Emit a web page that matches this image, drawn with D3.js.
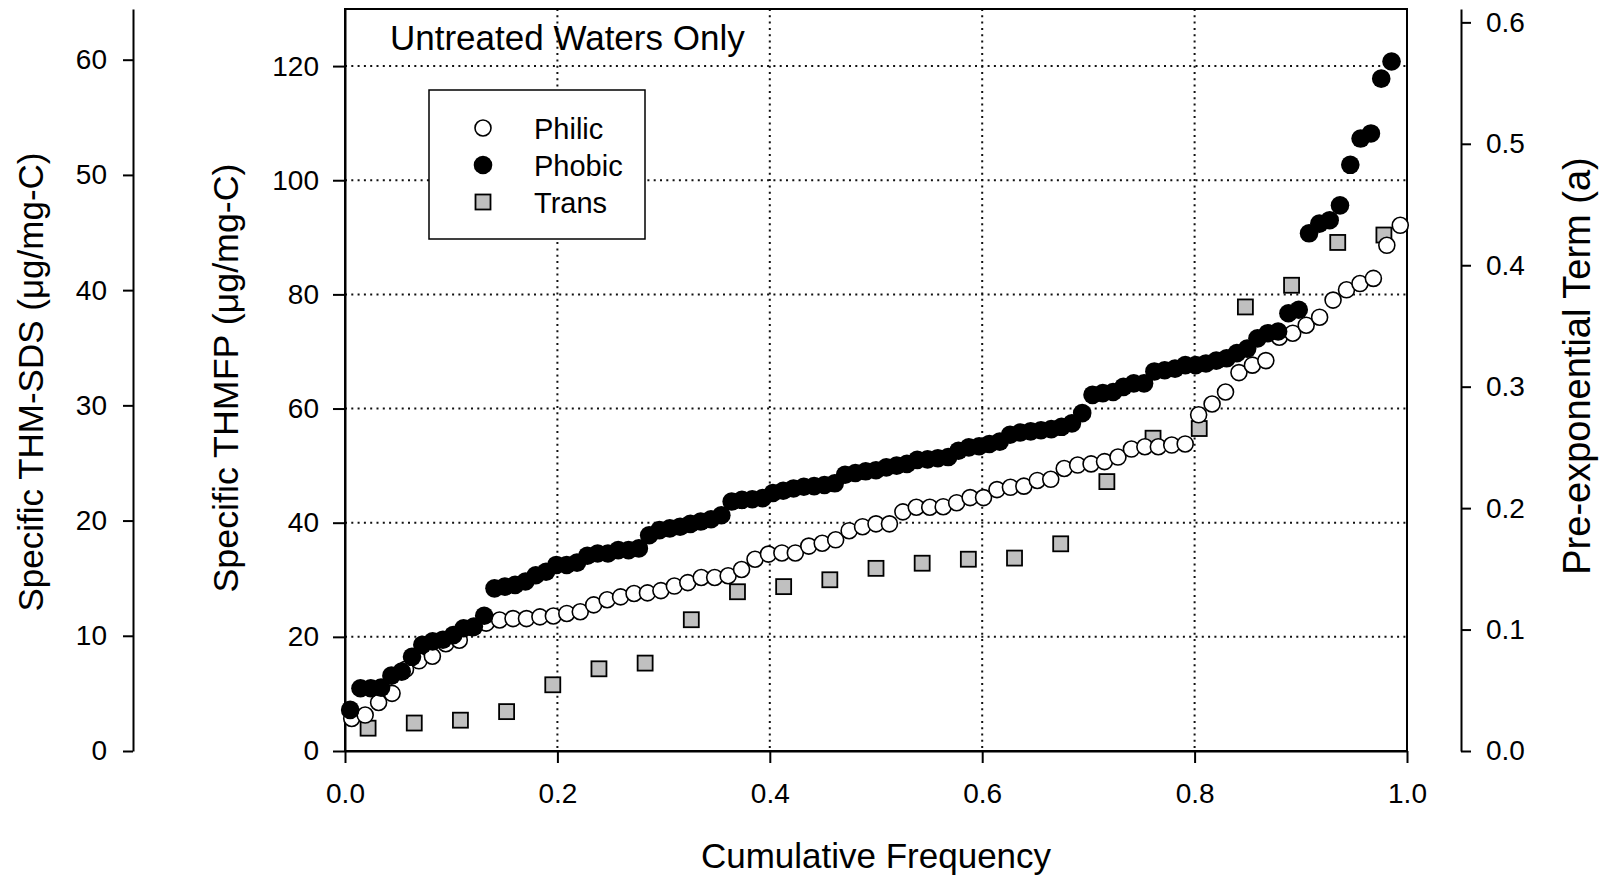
<!DOCTYPE html>
<html>
<head>
<meta charset="utf-8">
<script src="https://cdn.jsdelivr.net/npm/d3@7"></script>
<style>
  body { margin: 0; background: #fff; }
  text { font-family: "Liberation Sans", Arial, sans-serif; }
</style>
</head>
<body>
<div id="chart"></div>
<script>
// values (Specific THMFP scale), sorted ascending
const philic = [5.7, 6.3, 8.5, 10.1, 14.3, 15.8, 16.6, 18.8, 19.4, 21.6,
  22.4, 22.95, 23.2, 23.2, 23.5, 23.65, 24.1, 24.4, 25.6, 26.5,
  27.0, 27.6, 27.7, 28.1, 28.9, 29.5, 30.4, 30.4, 30.7, 31.8,
  33.6, 34.5, 34.7, 34.7, 35.9, 36.4, 37.0, 38.6, 39.3, 39.8,
  39.8, 41.9, 42.7, 42.7, 42.8, 43.5, 44.4, 44.4, 45.8, 46.2,
  46.4, 47.4, 47.6, 49.5, 50.1, 50.3, 50.7, 51.5, 52.9, 53.3,
  53.3, 53.6, 53.8, 58.9, 60.8, 62.9, 66.3, 67.6, 68.4, 72.5,
  73.2, 74.6, 76.0, 79.0, 80.8, 81.9, 82.8, 88.6, 92.1];

const phobic = [7.2, 11.0, 11.0, 11.1, 13.2, 13.9, 16.5, 18.6, 19.2, 19.5,
  20.3, 21.5, 21.8, 23.7, 28.5, 28.8, 29.1, 29.7, 30.8, 31.4,
  32.6, 32.6, 33.0, 34.2, 34.6, 34.6, 35.2, 35.2, 35.5, 37.8,
  38.7, 39.0, 39.3, 39.8, 40.2, 40.6, 41.3, 43.7, 44.0, 44.1,
  44.3, 45.2, 45.6, 46.0, 46.3, 46.4, 46.6, 46.9, 48.4, 48.7,
  49.0, 49.2, 49.7, 50.0, 50.3, 51.0, 51.1, 51.3, 51.5, 52.6,
  53.2, 53.4, 53.8, 54.2, 55.4, 55.8, 56.0, 56.2, 56.4, 56.8,
  57.4, 59.2, 62.4, 62.7, 62.9, 63.8, 64.4, 64.4, 66.5, 66.7,
  67.0, 67.6, 67.6, 67.9, 68.4, 68.8, 69.7, 70.5, 72.3, 73.2,
  73.5, 76.7, 77.3, 90.7, 92.4, 93.0, 95.6, 102.7, 107.3, 108.2,
  117.8, 120.8];

const trans = [4.0, 4.9, 5.4, 6.9, 11.6, 14.4, 15.4, 23.0, 27.9, 28.8,
  30.0, 32.0, 32.9, 33.6, 33.8, 36.3, 47.2, 54.8, 56.5, 77.8,
  81.6, 89.1, 90.4];

// sample counts used for the plotting positions (phobic spacing suggests 103)
const philicN = philic.length;
const phobicN = 103;
const transN = trans.length;

const xTicks = [0, 0.2, 0.4, 0.6, 0.8, 1.0];
const thmfpTicks = [0, 20, 40, 60, 80, 100, 120];
const sdsTicks = [0, 10, 20, 30, 40, 50, 60];
const preTicks = [0, 0.1, 0.2, 0.3, 0.4, 0.5, 0.6];
const gridY = [20, 40, 60, 80, 100, 120];
const gridX = [0.2, 0.4, 0.6, 0.8];

const legendItems = [
  { name: 'Philic', kind: 'open' },
  { name: 'Phobic', kind: 'filled' },
  { name: 'Trans', kind: 'square' }
];

// cumulative frequency from the rank
const toPoints = (vals, n) => vals.map((v, i) => ({ f: (i + 0.5) / n, v: v }));

const W = 1602, H = 875;
const pLeft = 345, pRight = 1407, pTop = 9, pBottom = 751;

const svg = d3.select('#chart').append('svg')
  .attr('width', W)
  .attr('height', H);

const x = d3.scaleLinear().domain([0, 1]).range([pLeft, pRight]);
const y = d3.scaleLinear().domain([0, 130]).range([pBottom, pTop]);
const ySds = d3.scaleLinear().domain([0, 64.4]).range([pBottom, pTop]);
const yPre = d3.scaleLinear().domain([0, 0.611]).range([pBottom, pTop]);

// dotted grid
svg.append('g').selectAll('line')
  .data(gridY).enter().append('line')
  .attr('x1', pLeft).attr('x2', pRight)
  .attr('y1', d => y(d)).attr('y2', d => y(d))
  .attr('stroke', '#111').attr('stroke-width', 2)
  .attr('stroke-dasharray', '2,4.3');
svg.append('g').selectAll('line')
  .data(gridX).enter().append('line')
  .attr('y1', pTop).attr('y2', pBottom)
  .attr('x1', d => x(d)).attr('x2', d => x(d))
  .attr('stroke', '#111').attr('stroke-width', 2)
  .attr('stroke-dasharray', '2,4.3');

// title inside plot
svg.append('text')
  .attr('x', 390).attr('y', 50)
  .attr('font-size', 35)
  .text('Untreated Waters Only');

// axes
function styleAxis(g) {
  g.attr('font-size', 28).attr('font-family', '"Liberation Sans", Arial, sans-serif');
  g.selectAll('path, line').attr('stroke', '#000').attr('stroke-width', 2);
  g.selectAll('text').attr('fill', '#000');
}

svg.append('g')
  .attr('transform', 'translate(133,0)')
  .call(d3.axisLeft(ySds).tickValues(sdsTicks).tickSize(10).tickSizeOuter(0).tickPadding(16))
  .call(styleAxis);

svg.append('g')
  .attr('transform', `translate(${pLeft},0)`)
  .call(d3.axisLeft(y).tickValues(thmfpTicks).tickSize(12).tickSizeOuter(0).tickPadding(14))
  .call(styleAxis);

svg.append('g')
  .attr('transform', 'translate(1461,0)')
  .call(d3.axisRight(yPre).tickValues(preTicks).tickSize(10).tickSizeOuter(0).tickPadding(15)
    .tickFormat(d3.format('.1f')))
  .call(styleAxis);

svg.append('g')
  .attr('transform', `translate(0,${pBottom})`)
  .call(d3.axisBottom(x).tickValues(xTicks).tickSize(12).tickSizeOuter(0).tickPadding(20)
    .tickFormat(d3.format('.1f')))
  .call(styleAxis);

// plot frame
svg.append('rect')
  .attr('x', pLeft).attr('y', pTop)
  .attr('width', pRight - pLeft).attr('height', pBottom - pTop)
  .attr('fill', 'none').attr('stroke', '#000').attr('stroke-width', 2);

// axis titles
svg.append('text')
  .attr('transform', 'translate(43,382) rotate(-90)')
  .attr('text-anchor', 'middle').attr('font-size', 35)
  .text('Specific THM-SDS (\u03bcg/mg-C)');
svg.append('text')
  .attr('transform', 'translate(238,378) rotate(-90)')
  .attr('text-anchor', 'middle').attr('font-size', 35.8)
  .text('Specific THMFP (\u03bcg/mg-C)');
svg.append('text')
  .attr('transform', 'translate(1590,366) rotate(-90)')
  .attr('text-anchor', 'middle').attr('font-size', 38)
  .text('Pre-exponential Term (a)');
svg.append('text')
  .attr('x', (pLeft + pRight) / 2).attr('y', 868)
  .attr('text-anchor', 'middle').attr('font-size', 35)
  .text('Cumulative Frequency');

// markers
const sq = 15;
svg.append('g').selectAll('rect')
  .data(toPoints(trans, transN)).enter().append('rect')
  .attr('x', d => x(d.f) - sq / 2).attr('y', d => y(d.v) - sq / 2)
  .attr('width', sq).attr('height', sq)
  .attr('fill', '#c0c0c0').attr('stroke', '#000').attr('stroke-width', 1.8);

svg.append('g').selectAll('circle')
  .data(toPoints(philic, philicN)).enter().append('circle')
  .attr('cx', d => x(d.f)).attr('cy', d => y(d.v)).attr('r', 8)
  .attr('fill', '#fff').attr('stroke', '#000').attr('stroke-width', 1.6);

svg.append('g').selectAll('circle')
  .data(toPoints(phobic, phobicN)).enter().append('circle')
  .attr('cx', d => x(d.f)).attr('cy', d => y(d.v)).attr('r', 9.3)
  .attr('fill', '#000');

// legend
const legend = svg.append('g');
legend.append('rect')
  .attr('x', 429).attr('y', 90).attr('width', 216).attr('height', 149)
  .attr('fill', '#fff').attr('stroke', '#000').attr('stroke-width', 1.5);

const rows = legend.selectAll('g.row')
  .data(legendItems).enter().append('g')
  .attr('class', 'row')
  .attr('transform', (d, i) => `translate(483,${128 + i * 37})`);

rows.each(function (d) {
  const g = d3.select(this);
  if (d.kind === 'square') {
    g.append('rect').attr('x', -sq / 2).attr('y', -sq / 2).attr('width', sq).attr('height', sq)
      .attr('fill', '#c0c0c0').attr('stroke', '#000').attr('stroke-width', 1.8);
  } else if (d.kind === 'open') {
    g.append('circle').attr('r', 8).attr('fill', '#fff').attr('stroke', '#000').attr('stroke-width', 1.6);
  } else {
    g.append('circle').attr('r', 9.3).attr('fill', '#000');
  }
});

rows.append('text')
  .attr('x', 51).attr('y', 10.5)
  .attr('font-size', 29)
  .text(d => d.name);
</script>
</body>
</html>
